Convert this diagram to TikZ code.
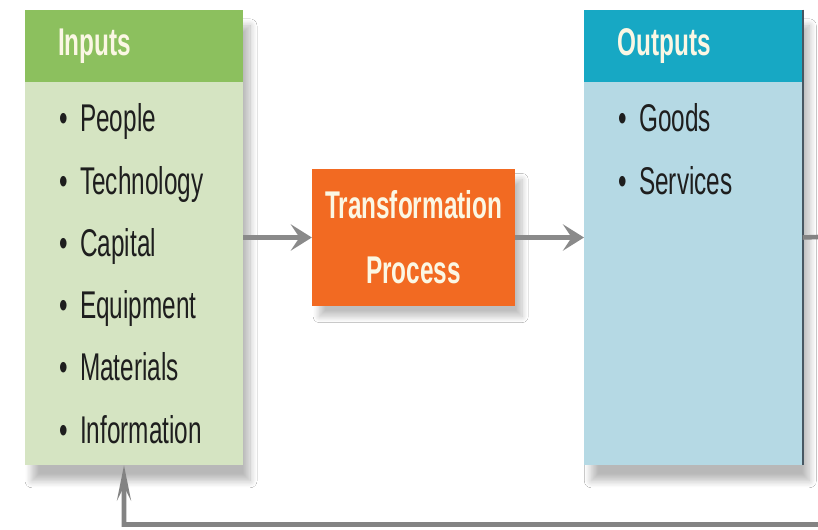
\documentclass[tikz,border=0pt]{standalone}
\usepackage{fontspec}
\setmainfont[FakeStretch=0.63]{Liberation Sans}
\usepackage{xcolor}
\usepackage{tikz}
\usetikzlibrary{arrows.meta,positioning,shadows.blur}

\definecolor{inhead}{HTML}{8CC05E}
\definecolor{inbody}{HTML}{D5E4C2}
\definecolor{outhead}{HTML}{17A8C4}
\definecolor{outbody}{HTML}{B5D9E4}
\definecolor{procorange}{HTML}{F26A22}
\definecolor{headtext}{HTML}{FBF7E4}
\definecolor{entrytext}{HTML}{1E1E1E}
\definecolor{flowgray}{HTML}{8A8A8A}

\begin{document}
\begin{tikzpicture}[
        x=0.02cm,y=-0.02cm,
        >=Stealth,
        node distance=1.37cm,
        box/.style={rectangle,inner sep=0,minimum width=4.36cm,minimum height=9.1cm,
            blur shadow={shadow xshift=4pt,shadow yshift=-9pt,shadow blur radius=0.14cm,shadow blur steps=12,shadow opacity=28}},
        inbox/.style={box,fill=inbody},
        outbox/.style={box,fill=outbody},
        head/.style={rectangle,anchor=north west,minimum width=4.36cm,minimum height=1.44cm,
            inner xsep=0.66cm,inner ysep=0,text width=3.04cm,align=left,text=headtext,
            font=\fontsize{22}{26}\selectfont\bfseries},
        entry/.style={anchor=base west,inner sep=0,text=entrytext,font=\fontsize{22}{26}\selectfont},
        procbox/.style={rectangle,fill=procorange,minimum width=4.06cm,minimum height=2.74cm,
            align=center,text=headtext,font=\fontsize{22}{37}\selectfont\bfseries,
            blur shadow={shadow xshift=4pt,shadow yshift=-6pt,shadow blur radius=0.12cm,shadow blur steps=12,shadow opacity=25}},
        flow/.style={-{Stealth[length=12pt,width=15pt,inset=5pt]},line width=3.4pt,draw=flowgray},
        loop/.style={-{Stealth[length=20pt,width=8pt,inset=8pt]},line width=2.6pt,draw=flowgray!95!black}
    ]
        \clip (0,0) rectangle (818,530);
        \fill[white] (0,0) rectangle (818,530);

        % boxes
        \node[inbox] (inputs) at (134,237.5) {};
        \node[procbox,right=of inputs] (trans) {Transformation\\Process};
        \node[outbox,right=of trans] (outputs) {};
        \draw[line width=1pt,draw=black!70!cyan] (outputs.north east) -- (outputs.south east);

        % headers
        \node[head,fill=inhead] (inhdr) at (inputs.north west) {Inputs};
        \node[head,fill=outhead] (outhdr) at (outputs.north west) {Outputs};

        % entries
        \foreach \word [count=\i] in {People,Technology,Capital,Equipment,Materials,Information}
            \node[entry] (in\i) at (59,132+62.2*\i-62.2) {\textbullet\hspace{7pt}\word};
        \foreach \word [count=\i] in {Goods,Services}
            \node[entry] (out\i) at (618,132+62.2*\i-62.2) {\textbullet\hspace{7pt}\word};

        % flow
        \draw[flow] (inputs) -- (trans);
        \draw[flow] (trans) -- (outputs);

        % feedback
        \coordinate (loopne) at (850,236);
        \coordinate (loopse) at (850,524.5);
        \coordinate (loopsw) at (124,524.5);
        \draw[loop] (outputs.east) -- (loopne) -- (loopse) -- (loopsw) -- (loopsw |- inputs.south);
    \end{tikzpicture}
\end{document}
